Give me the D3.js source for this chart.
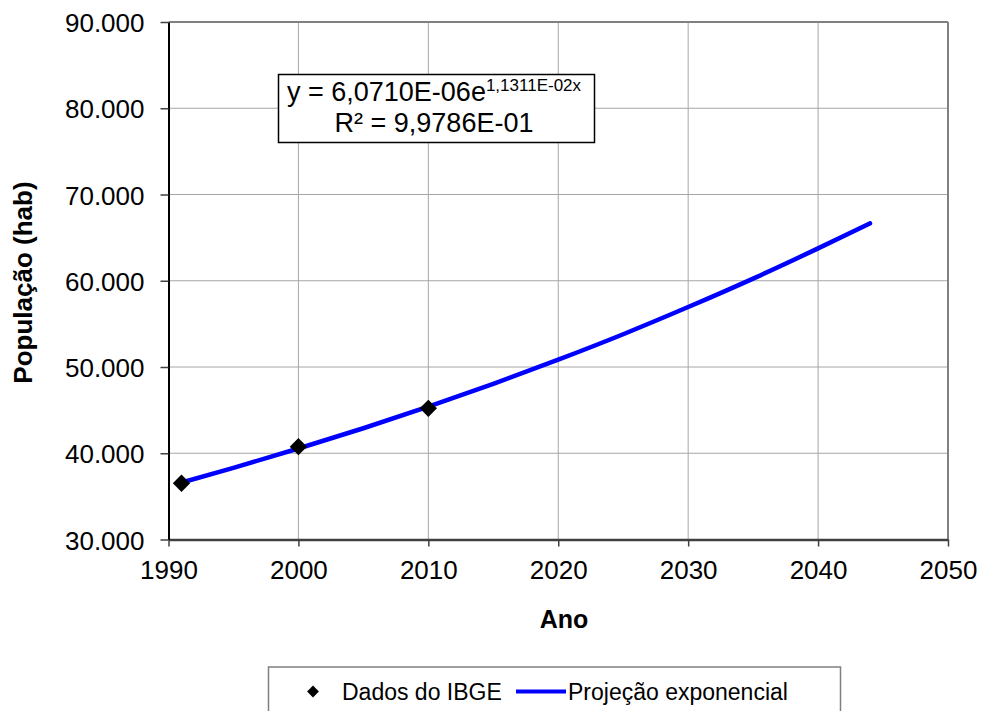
<!DOCTYPE html>
<html>
<head>
<meta charset="utf-8">
<script src="https://cdn.jsdelivr.net/npm/d3@7"></script>
<style>
  body { margin: 0; background: #fff; }
  text { font-family: "Liberation Sans", Arial, sans-serif; fill: #000; }
</style>
</head>
<body>
<div id="main"></div>
<script>
// data
const ibgeYears = [1991, 2000, 2010];
const ibgePop = [36520, 40760, 45210];

const projYears = [1991, 1995, 2000, 2005, 2010, 2015, 2020, 2025, 2030, 2035, 2040, 2044];
const projPop = [36600, 38300, 40550, 42900, 45400, 48050, 50850, 53800, 56950, 60250, 63750, 66650];

const xTicks = [1990, 2000, 2010, 2020, 2030, 2040, 2050];
const yTicks = [30000, 40000, 50000, 60000, 70000, 80000, 90000];

const width = 981, height = 711;
const ff = "Liberation Sans, Arial, sans-serif";

const svg = d3.select("#main")
  .append("svg")
  .attr("width", width)
  .attr("height", height);

const x = d3.scaleLinear().domain([1990, 2050]).range([168.5, 948]);
const y = d3.scaleLinear().domain([30000, 90000]).range([539.5, 22]);

const ptBR = d3.formatLocale({decimal: ",", thousands: ".", grouping: [3], currency: ["R$", ""]});
const fmt = ptBR.format(",.0f");

// grid
svg.append("g").selectAll("line")
  .data(xTicks.slice(1, -1))
  .join("line")
  .attr("x1", d => x(d)).attr("x2", d => x(d))
  .attr("y1", y(90000)).attr("y2", y(30000))
  .attr("stroke", "#a6a6a6").attr("stroke-width", 1);

svg.append("g").selectAll("line")
  .data(yTicks.slice(1, -1))
  .join("line")
  .attr("x1", x(1990)).attr("x2", x(2050))
  .attr("y1", d => y(d)).attr("y2", d => y(d))
  .attr("stroke", "#a6a6a6").attr("stroke-width", 1);

// frame: top and right in grey
svg.append("line")
  .attr("x1", x(1990)).attr("x2", x(2050))
  .attr("y1", y(90000)).attr("y2", y(90000))
  .attr("stroke", "#808080").attr("stroke-width", 2);
svg.append("line")
  .attr("x1", x(2050)).attr("x2", x(2050))
  .attr("y1", y(90000)).attr("y2", y(30000))
  .attr("stroke", "#808080").attr("stroke-width", 2);

// axes
const xAxis = svg.append("g")
  .attr("transform", "translate(0," + y(30000) + ")")
  .call(d3.axisBottom(x).tickValues(xTicks).tickFormat(d3.format("d")).tickSizeInner(7).tickSizeOuter(0).tickPadding(14));
xAxis.select(".domain").attr("stroke", "#404040").attr("stroke-width", 2.5);
xAxis.selectAll(".tick line").attr("stroke", "#404040").attr("stroke-width", 1.5);
xAxis.selectAll("text").attr("font-size", 26).attr("font-family", ff).attr("fill", "#000");

const yAxis = svg.append("g")
  .attr("transform", "translate(" + x(1990) + ",0)")
  .call(d3.axisLeft(y).tickValues(yTicks).tickFormat(fmt).tickSizeInner(8).tickSizeOuter(0).tickPadding(16));
yAxis.select(".domain").attr("stroke", "#000").attr("stroke-width", 2);
yAxis.selectAll(".tick line").attr("stroke", "#404040").attr("stroke-width", 1.5);
yAxis.selectAll("text").attr("font-size", 26).attr("font-family", ff).attr("fill", "#000").attr("dy", "0.37em");

// axis titles
svg.append("text")
  .attr("x", 564).attr("y", 628)
  .attr("text-anchor", "middle")
  .attr("font-size", 25).attr("font-weight", "bold")
  .text("Ano");

svg.append("text")
  .attr("transform", "translate(32,282.5) rotate(-90)")
  .attr("text-anchor", "middle")
  .attr("font-size", 26).attr("font-weight", "bold")
  .text("População (hab)");

// projection line
const line = d3.line()
  .x((d, i) => x(projYears[i]))
  .y(d => y(d))
  .curve(d3.curveMonotoneX);

svg.append("path")
  .datum(projPop)
  .attr("d", line)
  .attr("fill", "none")
  .attr("stroke", "#0000ff")
  .attr("stroke-width", 4.5)
  .attr("stroke-linecap", "round");

// IBGE markers
const diamond = d3.symbol().type(d3.symbolSquare).size(150);
svg.append("g").selectAll("path")
  .data(ibgePop)
  .join("path")
  .attr("d", diamond)
  .attr("transform", (d, i) => "translate(" + x(ibgeYears[i]) + "," + y(d) + ") rotate(45)")
  .attr("fill", "#000");

// equation box
const eq = svg.append("g");
eq.append("rect")
  .attr("x", 278.5).attr("y", 74.5).attr("width", 316).attr("height", 68)
  .attr("fill", "#fff").attr("stroke", "#000").attr("stroke-width", 1.5);
const l1 = eq.append("text")
  .attr("x", 287).attr("y", 101)
  .attr("font-size", 27);
l1.append("tspan").text("y = 6,0710E-06e");
l1.append("tspan").attr("font-size", 17).attr("dy", -10).text("1,1311E-02x");
eq.append("text")
  .attr("x", 434).attr("y", 132)
  .attr("text-anchor", "middle")
  .attr("font-size", 27)
  .text("R² = 9,9786E-01");

// legend
const lg = svg.append("g");
lg.append("rect")
  .attr("x", 268.5).attr("y", 667).attr("width", 572).attr("height", 60)
  .attr("fill", "#fff").attr("stroke", "#808080").attr("stroke-width", 1.5);
lg.append("path")
  .attr("d", d3.symbol().type(d3.symbolSquare).size(70))
  .attr("transform", "translate(313,691.5) rotate(45)")
  .attr("fill", "#000");
lg.append("text")
  .attr("x", 342).attr("y", 700)
  .attr("font-size", 23)
  .text("Dados do IBGE");
lg.append("line")
  .attr("x1", 516).attr("x2", 566)
  .attr("y1", 691.5).attr("y2", 691.5)
  .attr("stroke", "#0000ff").attr("stroke-width", 4);
lg.append("text")
  .attr("x", 568).attr("y", 700)
  .attr("font-size", 23)
  .text("Projeção exponencial");
</script>
</body>
</html>
